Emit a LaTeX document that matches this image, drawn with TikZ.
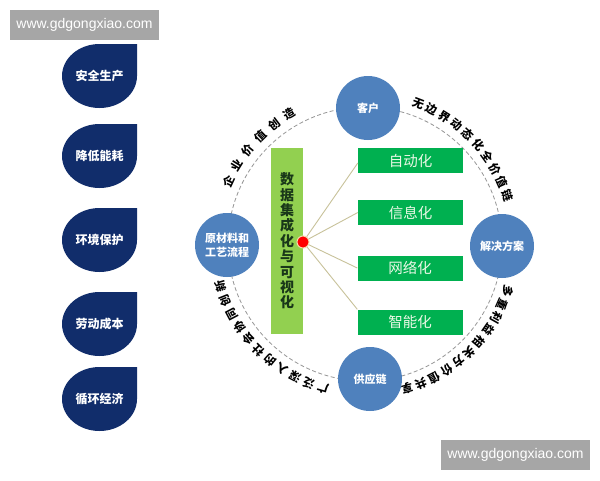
\documentclass[tikz,border=0pt]{standalone}
\usepackage{fontspec}
\setmainfont{Noto Sans CJK SC}
\newfontfamily\wmfont{Liberation Sans}
\usetikzlibrary{decorations.text,calc}
\definecolor{navy}{RGB}{17,45,107}
\definecolor{cblue}{RGB}{79,129,189}
\definecolor{lgreen}{RGB}{146,208,80}
\definecolor{dgreen}{RGB}{0,176,80}
\definecolor{wmgray}{RGB}{166,166,166}
\definecolor{linec}{RGB}{200,194,154}
\definecolor{dashc}{RGB}{150,150,150}
\definecolor{bartext}{RGB}{25,55,25}
\definecolor{boxtext}{RGB}{235,248,230}
\newcommand\arcfont{\fontsize{11.5}{11.5}\selectfont\bfseries}
\begin{document}
\begin{tikzpicture}[x=1pt,y=1pt,
  tear/.pic={\fill[navy] (0,32) -- (37.5,32) -- (37.5,0)
      arc[start angle=0,end angle=-180,x radius=37.5,y radius=32]
      arc[start angle=180,end angle=90,x radius=37.5,y radius=32] -- cycle;},
  droptext/.style={text=white,font=\fontsize{12}{14}\selectfont\bfseries,inner sep=0},
  ring/.style={circle,fill=cblue,minimum size=64pt,inner sep=0,text=white,
      font=\fontsize{11}{14}\selectfont\bfseries,align=center},
  gbox/.style={rectangle,fill=dgreen,minimum width=105pt,minimum height=25pt,inner sep=0,
      text=boxtext,font=\fontsize{14.5}{16}\selectfont},
  wm/.style={rectangle,fill=wmgray,minimum width=149pt,minimum height=30pt,inner sep=0,
      text=white,font=\wmfont\fontsize{14}{16}\selectfont},
  conn/.style={draw=linec,line width=0.9pt},
  arctext/.style={decorate,decoration={text along path,text align={fit to path},
      text={|\arcfont|#1}}}
]
\useasboundingbox (0,0) rectangle (600,-480);
\fill[white] (0,0) rectangle (600,-480);
% watermarks
\node[wm] (wm1) at (84.5,-25) {www.gdgongxiao.com};
\node[wm] (wm2) at (515.5,-455) {www.gdgongxiao.com};
% left teardrops
\foreach \y/\t/\n in {76/安全生产/d1,156/降低能耗/d2,240/环境保护/d3,324/劳动成本/d4,399/循环经济/d5}{
  \pic at (99.5,-\y) {tear};
  \node[droptext] (\n) at (99.5,-\y) {\t};
}
% dashed ring
\coordinate (C) at (365,-244);
\draw[dashc,line width=0.8pt,dash pattern=on 4pt off 2.5pt] (C) circle (137);
% curved texts
\path[arctext=企业价值创造] ($(C)+(157.5:146)$) arc[start angle=157.5,end angle=118,radius=146];
\path[arctext=无边界动态化全价值链] ($(C)+(71.5:146)$) arc[start angle=71.5,end angle=16.5,radius=146];
\path[arctext=多重利益相关方价值共享] ($(C)+(-16:146)$) arc[start angle=-16,end angle=-76,radius=146];
\path[arctext=广泛深入的社会协同创新] ($(C)+(-104:146)$) arc[start angle=-104,end angle=-166,radius=146];
% ring nodes
\node[ring] (kh) at (368,-108) {客户};
\node[ring] (jj) at (502,-246) {解决方案};
\node[ring] (gy) at (370,-379) {供应链};
\node[ring] (yc) at (227,-245) {原材料和\\工艺流程};
% central bar
\node[rectangle,fill=lgreen,minimum width=32pt,minimum height=186pt,inner sep=0,
  text=bartext,font=\fontsize{14}{15.4}\selectfont\bfseries,align=center]
  (bar) at (287,-241) {数\\据\\集\\成\\化\\与\\可\\视\\化};
% green boxes
\node[gbox] (b1) at (410.5,-160.5) {自动化};
\node[gbox] (b2) at (410.5,-212.5) {信息化};
\node[gbox] (b3) at (410,-268) {网络化};
\node[gbox] (b4) at (410,-322) {智能化};
% red dot
\node[circle,fill=red,draw={rgb,255:red,245;green,215;blue,170},line width=1pt,
  minimum size=12pt,inner sep=0] (dot) at (303,-242) {};
% connectors
\draw[conn] (dot) -- ($(b1.west)+(0,-2.5)$);
\draw[conn] (dot) -- (b2.west);
\draw[conn] (dot) -- (b3.west);
\draw[conn] (dot) -- (b4.north west);
\end{tikzpicture}
\end{document}
